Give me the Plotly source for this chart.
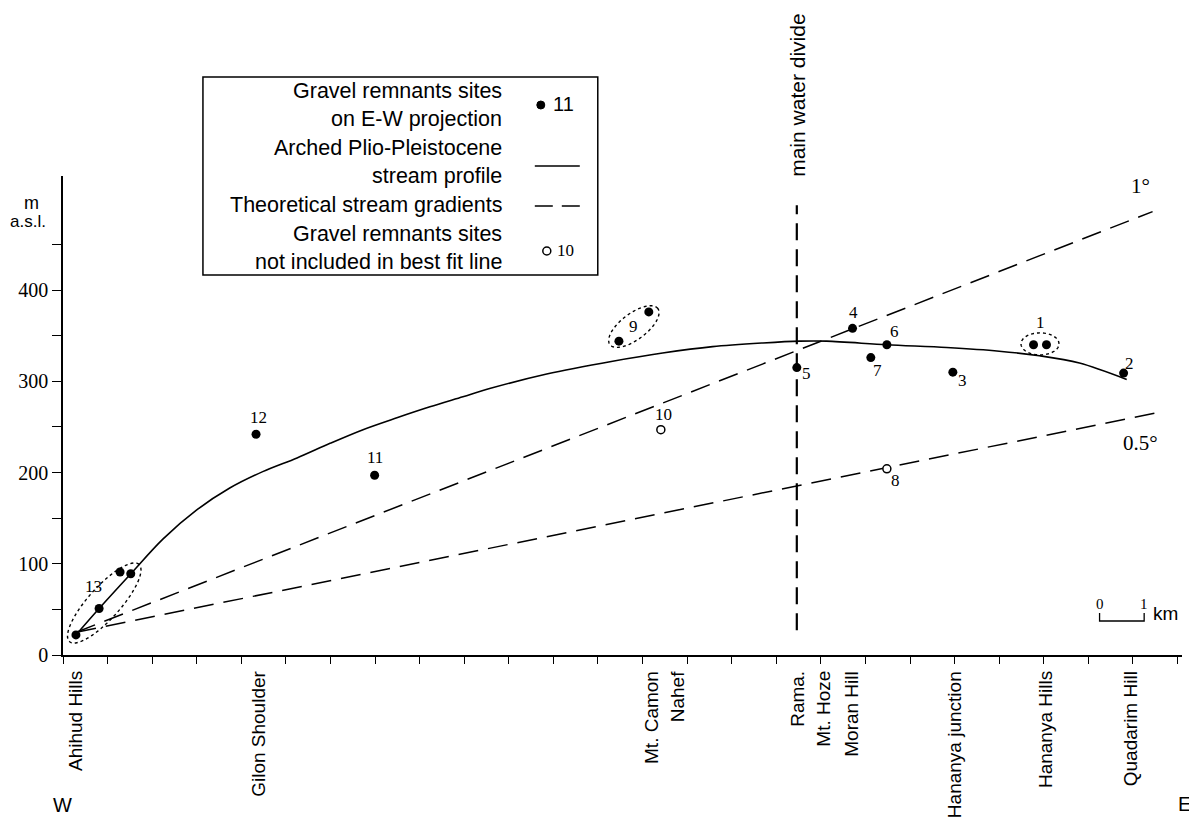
import numpy as np
import plotly.graph_objects as go

# ---------------- data (km along E-W projection, m a.s.l.) ----------------
site_ids = ["13", "13", "13", "13", "12", "11", "9", "9", "5", "4", "7", "6", "3", "1", "1", "2"]
site_km = [0.29, 0.81, 1.28, 1.52, 4.33, 6.99, 12.47, 13.14, 16.46, 17.71, 18.12, 18.48, 19.96, 21.77, 22.06, 23.79]
site_m = [22, 51, 91, 89, 242, 197, 344, 376, 315, 358, 326, 340, 310, 340, 340, 309]

excluded_ids = ["10", "8"]
excluded_km = [13.41, 18.48]
excluded_m = [247, 204]

profile_km = [0.29, 0.81, 1.52, 2.24, 3.0, 3.74, 4.48, 5.25, 5.99, 6.73, 7.49, 8.23, 8.97, 9.57,
              10.85, 12.33, 13.45, 14.57, 15.70, 16.52, 17.13, 18.48, 19.82, 21.0, 21.9, 22.8, 23.86]
profile_m = [22, 51, 89, 127, 159, 183, 201, 216, 232, 247, 260, 272, 283, 292,
             308, 322, 331, 338, 342, 344, 344, 340, 337, 333, 328, 320, 302]

grad1_km = [0.3, 24.44]
grad1_m = [25, 486]
grad05_km = [0.3, 24.49]
grad05_m = [25, 265]

divide_km = [16.46, 16.46]
divide_m = [27, 493]

place_names = ["Ahihud Hills", "Gilon Shoulder", "Mt. Camon", "Nahef", "Rama.", "Mt. Hoze",
               "Moran Hill", "Hananya junction", "Hananya Hills", "Quadarim Hill"]
place_km = [0.27, 4.37, 13.2, 13.79, 16.46, 17.04, 17.67, 20.0, 22.04, 23.95]

ytick_vals = [0, 50, 100, 150, 200, 250, 300, 350, 400, 450]
ytick_text = ["0", "", "100", "", "200", "", "300", "", "400", ""]
xtick_vals = list(range(0, 26))

# ---------------- layout geometry (reference-pixel based) ----------------
OFF = 8                      # page body margin
W, H = 1197 - OFF, 820 - OFF
X0, Y0 = 63, 655             # reference pixels of the origin
YTOP = 176
XMAX, YMAX = 25.1, 525
PW = XMAX * 44.6
PH = Y0 - YTOP
L = X0 - OFF
T = YTOP - OFF
B = H - (Y0 - OFF)
R = W - L - PW
KX = PW / XMAX       # px per km
KY = PH / YMAX       # px per m

def pxx(px):
    return (px - X0) / PW

def pxy(py):
    return (Y0 - py) / PH

SANS = "Liberation Sans, Arial, sans-serif"
SERIF = "Liberation Serif, Times New Roman, serif"

def ann(x, y, text, xref="paper", yref="paper", size=20, family=SANS, xa="center", ya="middle", **kw):
    d = dict(x=x, y=y, xref=xref, yref=yref, text=text, showarrow=False, xanchor=xa, yanchor=ya,
             font=dict(family=family, size=size, color="black"))
    d.update(kw)
    return d

fig = go.Figure()

# arched profile
fig.add_trace(go.Scatter(x=profile_km, y=profile_m, mode="lines",
                         line=dict(color="black", width=1.6, shape="spline", smoothing=0.9),
                         hoverinfo="skip"))
# theoretical gradients
for xs, ys in [(grad1_km, grad1_m), (grad05_km, grad05_m)]:
    fig.add_trace(go.Scatter(x=xs, y=ys, mode="lines",
                             line=dict(color="black", width=1.5, dash="20px,10px"),
                             hoverinfo="skip"))
# main water divide
fig.add_trace(go.Scatter(x=divide_km, y=divide_m, mode="lines",
                         line=dict(color="black", width=2.2, dash="17px,9px"),
                         hoverinfo="skip"))
# sites
fig.add_trace(go.Scatter(x=site_km, y=site_m, mode="markers",
                         marker=dict(color="black", size=9), cliponaxis=False,
                         text=site_ids, hoverinfo="text"))
fig.add_trace(go.Scatter(x=excluded_km, y=excluded_m, mode="markers",
                         marker=dict(color="white", size=8, line=dict(color="black", width=1.5)),
                         cliponaxis=False, text=excluded_ids, hoverinfo="text"))

# ---------------- point labels (pixel offsets from a site) ----------------
label_offsets = {
    "13": (site_km[1], site_m[1], -6, -22),
    "12": (site_km[4], site_m[4], 2, -17),
    "11": (site_km[5], site_m[5], 0, -18),
    "9": (site_km[7], site_m[7], -15, 15),
    "5": (site_km[8], site_m[8], 10, 6),
    "4": (site_km[9], site_m[9], 1, -16),
    "7": (site_km[10], site_m[10], 7, 13),
    "6": (site_km[11], site_m[11], 8, -13),
    "3": (site_km[12], site_m[12], 10, 8),
    "1": ((site_km[13] + site_km[14]) / 2, site_m[13], 0, -22),
    "2": (site_km[15], site_m[15], 6, -10),
    "10": (excluded_km[0], excluded_m[0], 3, -15),
    "8": (excluded_km[1], excluded_m[1], 9, 12),
}
annotations = []
for lab, (xk, ym, dx, dy) in label_offsets.items():
    annotations.append(ann(xk, ym, lab, xref="x", yref="y", size=17, family=SERIF,
                           xshift=dx, yshift=-dy))

# ---------------- dotted ellipses round grouped sites ----------------
ellipses = [  # centre (km, m), semi-axes px, angle deg
    ((site_km[0] + site_km[3]) / 2 + 0.02, 57, 52, 16, 48),
    ((site_km[6] + site_km[7]) / 2, 360, 30, 13, 37),
    ((site_km[13] + site_km[14]) / 2, 341, 19, 11, 0),
]
shapes = []
for (cx, cy, a, b, ang) in ellipses:
    t = np.linspace(0, 2 * np.pi, 80)
    th = np.radians(ang)
    dx = a * np.cos(t) * np.cos(th) - b * np.sin(t) * np.sin(th)
    dy = a * np.cos(t) * np.sin(th) + b * np.sin(t) * np.cos(th)
    xs = cx + dx / KX
    ys = cy + dy / KY
    path = "M " + " L ".join(f"{x:.4f},{y:.4f}" for x, y in zip(xs, ys)) + " Z"
    shapes.append(dict(type="path", path=path, xref="x", yref="y",
                       line=dict(color="black", width=1.4, dash="dot")))

# ---------------- place names under the axis ----------------
for name, xk in zip(place_names, place_km):
    annotations.append(ann(xk, pxy(669), name, xref="x", size=19, ya="top", textangle=-90))

annotations += [
    ann(pxx(62), pxy(805), "W", size=20),
    ann(pxx(1185), pxy(804), "E", size=20),
    ann(pxx(31), pxy(203), "m", size=18),
    ann(pxx(28), pxy(221), "a.s.l.", size=17),
    ann(divide_km[0], pxy(95), "main water divide", xref="x", size=21, textangle=-90),
    ann(pxx(1141), pxy(186), "1°", size=21, family=SERIF),
    ann(pxx(1141), pxy(443), "0.5°", size=21, family=SERIF),
]

# ---------------- scale bar (1 km) ----------------
sb_x0 = (1100 - X0) / KX
sb_y = pxy(621)
sb_top = pxy(613)
shapes.append(dict(type="path", xref="x", yref="paper",
                   path=f"M {sb_x0},{sb_top} L {sb_x0},{sb_y} L {sb_x0 + 1},{sb_y} L {sb_x0 + 1},{sb_top}",
                   line=dict(color="black", width=1.3)))
annotations += [
    ann(sb_x0, pxy(604), "0", xref="x", size=15, family=SERIF),
    ann(sb_x0 + 1, pxy(604), "1", xref="x", size=15, family=SERIF),
    ann(pxx(1166), pxy(613), "km", size=19),
]

# ---------------- legend box ----------------
shapes.append(dict(type="rect", xref="paper", yref="paper", x0=pxx(203), x1=pxx(598),
                   y0=pxy(77), y1=pxy(275), line=dict(color="black", width=1.5), fillcolor="white",
                   layer="above"))
legend_lines = [("Gravel remnants sites", 91), ("on E-W projection", 119),
                ("Arched Plio-Pleistocene", 148), ("stream profile", 176),
                ("Theoretical stream gradients", 205), ("Gravel remnants sites", 234),
                ("not included in best fit line", 262)]
for txt, py in legend_lines:
    annotations.append(ann(pxx(504), pxy(py), txt, size=21.5, xa="right"))
shapes += [
    dict(type="circle", xref="paper", yref="paper", x0=pxx(537), x1=pxx(545), y0=pxy(109), y1=pxy(101),
         fillcolor="black", line=dict(color="black", width=1), layer="above"),
    dict(type="line", xref="paper", yref="paper", x0=pxx(535), x1=pxx(580), y0=pxy(166), y1=pxy(166),
         line=dict(color="black", width=1.5), layer="above"),
    dict(type="line", xref="paper", yref="paper", x0=pxx(535), x1=pxx(581), y0=pxy(206), y1=pxy(206),
         line=dict(color="black", width=1.5, dash="18px,9px"), layer="above"),
    dict(type="circle", xref="paper", yref="paper", x0=pxx(543), x1=pxx(551), y0=pxy(255), y1=pxy(247),
         fillcolor="white", line=dict(color="black", width=1.5), layer="above"),
]
annotations += [
    ann(pxx(551), pxy(104), "11", size=20, xa="left"),
    ann(pxx(555), pxy(250), "10", size=17, family=SERIF, xa="left"),
]

fig.update_layout(
    width=W, height=H, margin=dict(l=L, r=R, t=T, b=B, pad=0),
    paper_bgcolor="white", plot_bgcolor="white", showlegend=False,
    xaxis=dict(range=[0, XMAX], showgrid=False, zeroline=False, showline=True, linecolor="black",
               linewidth=1.5, ticks="outside", ticklen=7, tickwidth=1.3, tickcolor="black",
               tickvals=xtick_vals, showticklabels=False, automargin=False),
    yaxis=dict(range=[0, YMAX], showgrid=False, zeroline=False, showline=True, linecolor="black",
               linewidth=1.5, ticks="outside", ticklen=9, tickwidth=1.3, tickcolor="black",
               tickvals=ytick_vals, ticktext=ytick_text, automargin=False,
               tickfont=dict(family=SERIF, size=20, color="black")),
    shapes=shapes, annotations=annotations,
)

fig.write_html("out.html")
